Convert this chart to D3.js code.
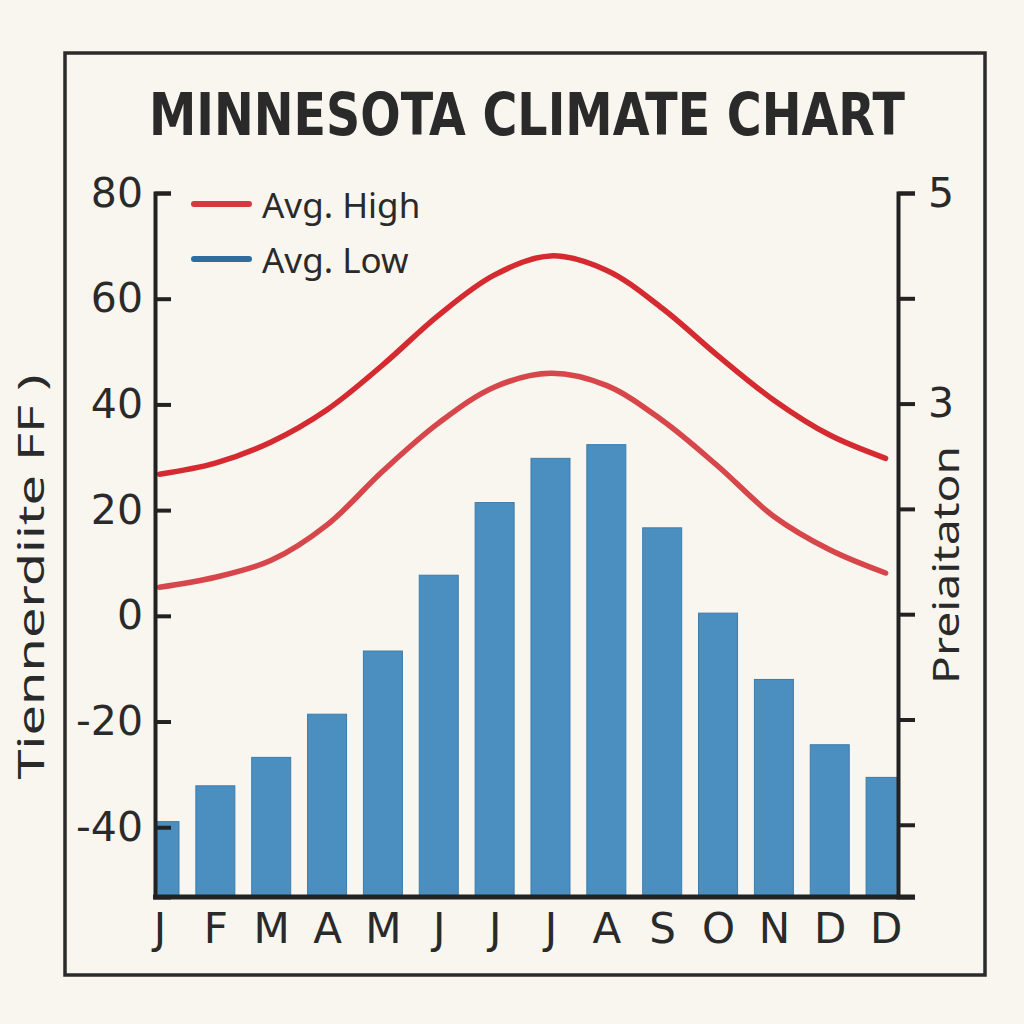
<!DOCTYPE html>
<html>
<head>
<meta charset="utf-8">
<script src="https://cdn.jsdelivr.net/npm/d3@7"></script>
<style>
  html, body { margin: 0; padding: 0; background: #f8f6ef; }
  svg { display: block; }
  text { font-family: "Noto Sans", "DejaVu Sans", sans-serif; fill: #2a2a2a; }
</style>
</head>
<body>
<div id="chart"></div>
<script>
// Monthly labels as they appear on the chart (14 columns)
const months = ['J', 'F', 'M', 'A', 'M', 'J', 'J', 'J', 'A', 'S', 'O', 'N', 'D', 'D'];

// Temperatures (°F)
const avgHigh = [26.8, 28.9, 32.9, 39.0, 47.5, 56.9, 64.5, 68.1, 65.4, 58.2, 49.2, 40.8, 34.2, 29.8];
const avgLow = [5.4, 7.3, 10.5, 17.2, 27.4, 36.5, 43.3, 45.9, 43.6, 37.0, 28.3, 18.8, 12.5, 8.1];

// Precipitation bars
const precip = [-0.97, -0.63, -0.36, 0.05, 0.65, 1.37, 2.06, 2.48, 2.61, 1.82, 1.01, 0.38, -0.24, -0.55];

const tempTicks = [80, 60, 40, 20, 0, -20, -40];
const precipTicks = [5, 4, 3, 2, 1, 0, -1];
const precipLabels = [5, 3];

const width = 1024;
const height = 1024;
const plot = { left: 155, right: 898, top: 193, bottom: 897 };

const svg = d3.select('#chart')
    .append('svg')
    .attr('width', width)
    .attr('height', height);

svg.append('rect')
    .attr('width', width)
    .attr('height', height)
    .attr('fill', '#f8f6ef');

// outer frame
svg.append('rect')
    .attr('x', 65)
    .attr('y', 53)
    .attr('width', 920)
    .attr('height', 922)
    .attr('fill', 'none')
    .attr('stroke', '#2b2b2b')
    .attr('stroke-width', 3.5);

// title
svg.append('text')
    .attr('x', 527)
    .attr('y', 135)
    .attr('text-anchor', 'middle')
    .attr('textLength', 756)
    .attr('lengthAdjust', 'spacingAndGlyphs')
    .style('font-family', '"Liberation Sans Narrow", "DejaVu Sans Condensed", sans-serif')
    .style('font-weight', 'bold')
    .style('font-size', '58px')
    .text('MINNESOTA CLIMATE CHART');

// scales
const x = d3.scalePoint()
    .domain(d3.range(months.length))
    .range([159.5, 885.6]);

const yTemp = d3.scaleLinear()
    .domain([-53.2, 80])
    .range([plot.bottom, plot.top]);

const yPrecip = d3.scaleLinear()
    .domain([-1.686, 5])
    .range([plot.bottom, plot.top]);

// clip so edge bars are cut by the axes
svg.append('clipPath')
    .attr('id', 'plot-clip')
    .append('rect')
    .attr('x', plot.left)
    .attr('y', plot.top - 20)
    .attr('width', plot.right - plot.left)
    .attr('height', plot.bottom - plot.top + 20);

const barWidth = 39;

svg.append('g')
    .attr('clip-path', 'url(#plot-clip)')
    .selectAll('rect')
    .data(precip)
    .enter()
    .append('rect')
    .attr('x', (d, i) => x(i) - barWidth / 2)
    .attr('y', d => yPrecip(d))
    .attr('width', barWidth)
    .attr('height', d => plot.bottom - yPrecip(d))
    .attr('fill', '#4b8fc0')
    .attr('stroke', '#3c7cab')
    .attr('stroke-width', 1);

// temperature lines (both drawn red, as in the picture)
const line = d3.line()
    .x((d, i) => x(i))
    .y(d => yTemp(d))
    .curve(d3.curveCatmullRom.alpha(0.5));

svg.append('path')
    .datum(avgHigh)
    .attr('d', line)
    .attr('fill', 'none')
    .attr('stroke', '#d42a30')
    .attr('stroke-width', 5.5)
    .attr('stroke-linecap', 'round');

svg.append('path')
    .datum(avgLow)
    .attr('d', line)
    .attr('fill', 'none')
    .attr('stroke', '#d6464b')
    .attr('stroke-width', 5.5)
    .attr('stroke-linecap', 'round');

// left axis, ticks pointing inward
const leftAxis = svg.append('g')
    .attr('transform', `translate(${plot.left},0)`)
    .call(d3.axisLeft(yTemp)
        .tickValues(tempTicks)
        .tickSize(-16)
        .tickSizeOuter(-16)
        .tickPadding(12)
        .tickFormat(d => d));

leftAxis.selectAll('path, line')
    .attr('stroke', '#222')
    .attr('stroke-width', 4);
leftAxis.selectAll('text')
    .style('font-size', '41px')
    .style('fill', '#2a2a2a')
    .style('font-family', '"DejaVu Sans", sans-serif');

// right axis
const rightAxis = svg.append('g')
    .attr('transform', `translate(${plot.right},0)`)
    .call(d3.axisRight(yPrecip)
        .tickValues(precipTicks)
        .tickSize(17)
        .tickSizeOuter(17)
        .tickPadding(13)
        .tickFormat(d => precipLabels.includes(d) ? d : ''));

rightAxis.selectAll('path, line')
    .attr('stroke', '#222')
    .attr('stroke-width', 4);
rightAxis.selectAll('text')
    .style('font-size', '41px')
    .style('fill', '#2a2a2a')
    .style('font-family', '"DejaVu Sans", sans-serif');

// bottom baseline and month labels
svg.append('line')
    .attr('x1', plot.left - 2)
    .attr('x2', 915)
    .attr('y1', plot.bottom)
    .attr('y2', plot.bottom)
    .attr('stroke', '#222')
    .attr('stroke-width', 5);

const bottomAxis = svg.append('g')
    .attr('transform', `translate(0,${plot.bottom})`)
    .call(d3.axisBottom(x)
        .tickSize(0)
        .tickPadding(16)
        .tickFormat(i => months[i]));

bottomAxis.select('.domain').remove();
bottomAxis.selectAll('text')
    .style('font-size', '42px')
    .style('fill', '#2a2a2a')
    .style('font-family', '"DejaVu Sans", sans-serif');

// axis titles
svg.append('text')
    .attr('transform', 'translate(44,577) rotate(-90)')
    .attr('text-anchor', 'middle')
    .attr('textLength', 405)
    .attr('lengthAdjust', 'spacingAndGlyphs')
    .style('font-size', '36px')
    .text('Tiennerdiite FF )');

svg.append('text')
    .attr('transform', 'translate(959,565) rotate(-90)')
    .attr('text-anchor', 'middle')
    .attr('textLength', 238)
    .attr('lengthAdjust', 'spacingAndGlyphs')
    .style('font-size', '36px')
    .text('Preiaitaton');

// legend
const legendItems = [
    { label: 'Avg. High', color: '#d43a40', y: 204 },
    { label: 'Avg. Low', color: '#2e6e9e', y: 259 }
];

const legend = svg.append('g');

legend.selectAll('line')
    .data(legendItems)
    .enter()
    .append('line')
    .attr('x1', 194)
    .attr('x2', 249)
    .attr('y1', d => d.y)
    .attr('y2', d => d.y)
    .attr('stroke', d => d.color)
    .attr('stroke-width', 6)
    .attr('stroke-linecap', 'round');

legend.selectAll('text')
    .data(legendItems)
    .enter()
    .append('text')
    .attr('x', 262)
    .attr('y', d => d.y + 14)
    .style('font-size', '35px')
    .text(d => d.label);
</script>
</body>
</html>
